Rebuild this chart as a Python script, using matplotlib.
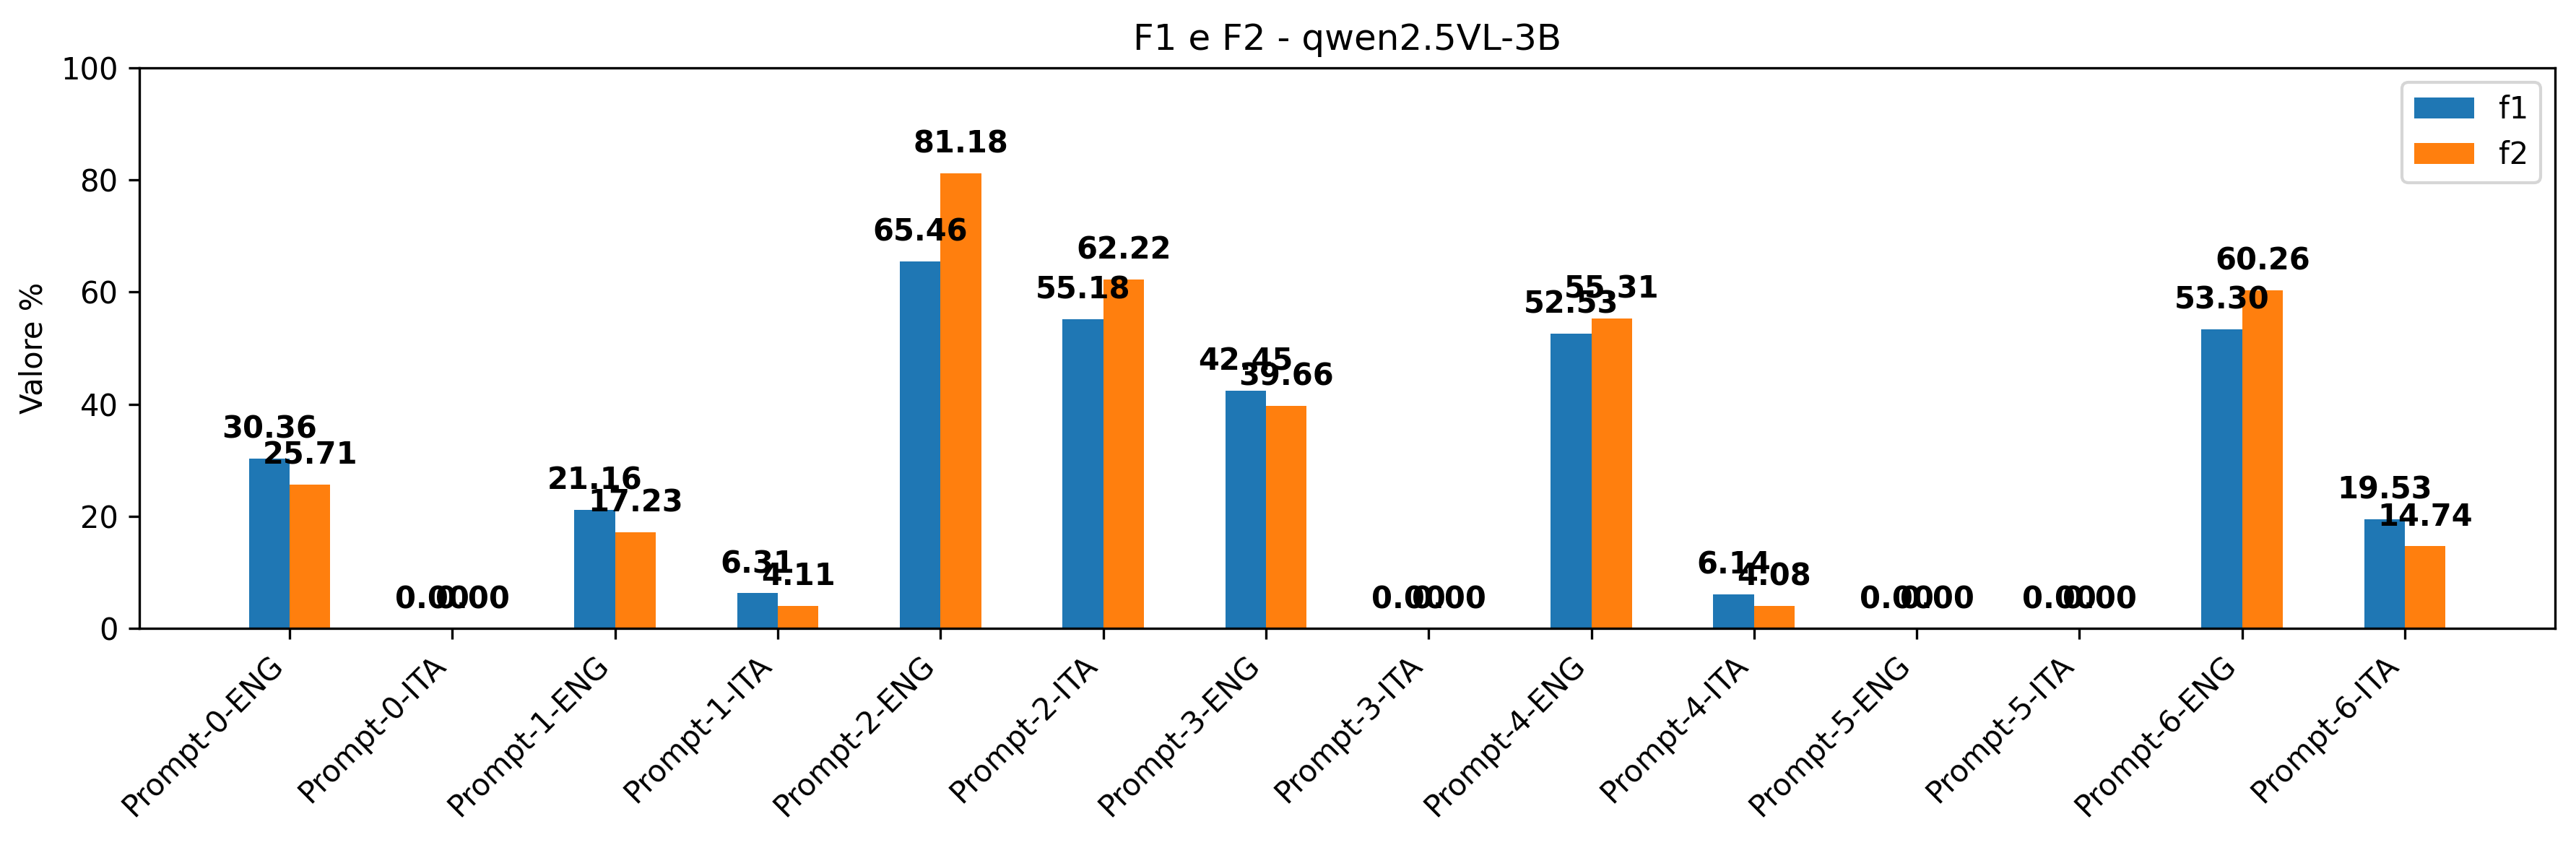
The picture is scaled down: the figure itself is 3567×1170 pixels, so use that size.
import matplotlib
matplotlib.use("Agg")
import matplotlib.pyplot as plt
import numpy as np

prompts = ['Prompt-0-ENG', 'Prompt-0-ITA', 'Prompt-1-ENG', 'Prompt-1-ITA',
           'Prompt-2-ENG', 'Prompt-2-ITA', 'Prompt-3-ENG', 'Prompt-3-ITA',
           'Prompt-4-ENG', 'Prompt-4-ITA', 'Prompt-5-ENG', 'Prompt-5-ITA',
           'Prompt-6-ENG', 'Prompt-6-ITA']
f1 = [30.36, 0.00, 21.16, 6.31, 65.46, 55.18, 42.45, 0.00, 52.53, 6.14, 0.00, 0.00, 53.30, 19.53]
f2 = [25.71, 0.00, 17.23, 4.11, 81.18, 62.22, 39.66, 0.00, 55.31, 4.08, 0.00, 0.00, 60.26, 14.74]

x = np.arange(len(prompts))
width = 0.25

fig, ax = plt.subplots(figsize=(11.89, 3.9), dpi=300)
b1 = ax.bar(x - width / 2, f1, width, label='f1', color='#1f77b4')
b2 = ax.bar(x + width / 2, f2, width, label='f2', color='#ff7f0e')

for bars in (b1, b2):
    for bar in bars:
        h = bar.get_height()
        ax.text(bar.get_x() + bar.get_width() / 2, h + 2.5, f'{h:.2f}',
                ha='center', va='bottom', fontsize=10, fontweight='bold')

ax.set_ylim(0, 100)
ax.set_ylabel('Valore %')
ax.set_title('F1 e F2 - qwen2.5VL-3B')
ax.set_xticks(x)
ax.set_xticklabels(prompts, rotation=45, ha='right')
ax.legend(loc='upper right')

fig.subplots_adjust(left=0.054, right=0.992, top=0.920, bottom=0.256)
fig.savefig('out.png', dpi=300)
